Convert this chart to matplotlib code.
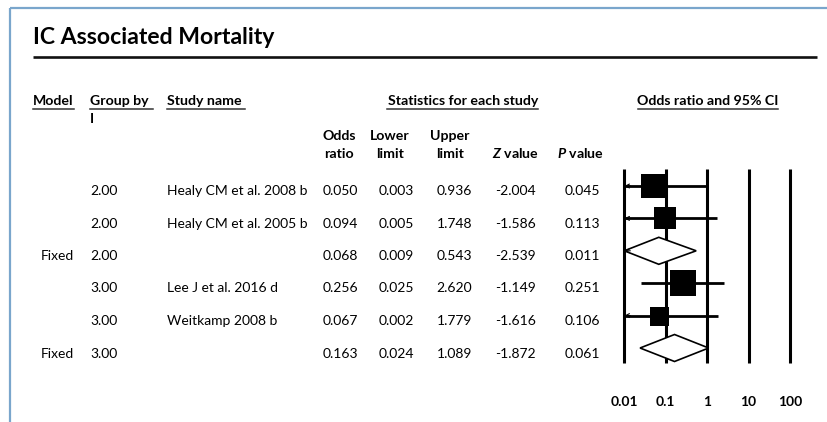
import matplotlib
matplotlib.use("Agg")
import matplotlib.pyplot as plt
import numpy as np

# ---------------- data ----------------
title = "IC Associated Mortality"
models = ["", "", "Fixed", "", "", "Fixed"]
groups = ["2.00", "2.00", "2.00", "3.00", "3.00", "3.00"]
studies = ["Healy CM et al. 2008 b", "Healy CM et al. 2005 b", "",
           "Lee J et al. 2016 d", "Weitkamp 2008 b", ""]
odds_ratio = [0.050, 0.094, 0.068, 0.256, 0.067, 0.163]
lower_limit = [0.003, 0.005, 0.009, 0.025, 0.002, 0.024]
upper_limit = [0.936, 1.748, 0.543, 2.620, 1.779, 1.089]
z_value = [-2.004, -1.586, -2.539, -1.149, -1.616, -1.872]
p_value = [0.045, 0.113, 0.011, 0.251, 0.106, 0.061]
is_summary = [False, False, True, False, False, True]
tick_values = [0.01, 0.1, 1, 10, 100]
tick_labels = ["0.01", "0.1", "1", "10", "100"]

# ---------------- style / layout ----------------
FONT = "Lato"
plt.rcParams["font.family"] = [FONT, "DejaVu Sans"]
plt.rcParams["mathtext.fontset"] = "custom"
plt.rcParams["mathtext.rm"] = FONT + ":bold"
plt.rcParams["mathtext.bfit"] = FONT + ":italic:bold"
plt.rcParams["mathtext.it"] = FONT + ":italic:bold"

W, H = 828, 422
fig = plt.figure(figsize=(W / 100, H / 100), dpi=100)
bg = fig.add_axes([0, 0, 1, 1])
bg.set_xlim(0, W)
bg.set_ylim(H, 0)
bg.axis("off")

FS = 10.0
HFS = 10.2
# border
bord = "#7aa6cc"
bg.plot([10, W], [7.5, 7.5], color=bord, lw=1.6, solid_capstyle="butt")
bg.plot([10, 10], [7.5, H], color=bord, lw=1.6, solid_capstyle="butt")

# title
bg.text(33, 44, title, fontsize=16.6, fontweight="bold", ha="left", va="baseline")
bg.plot([33, 817], [57, 57], color="#111111", lw=1.9, solid_capstyle="butt")

# header row with underlines
hdr_y = 105
hdrs = [("Model", 33, 74), ("Group by", 90, 153), ("Study name", 167, 245)]
for txt, x0, x1 in hdrs:
    bg.text(x0, hdr_y, txt, fontsize=HFS, fontweight="bold", ha="left", va="baseline")
    bg.plot([x0, x1], [108.5, 108.5], color="#333333", lw=1.1)
bg.text(90, 123, "I", fontsize=HFS, fontweight="bold", ha="left", va="baseline")
bg.text(463, hdr_y, "Statistics for each study", fontsize=HFS, fontweight="bold",
        ha="center", va="baseline")
bg.plot([387, 538], [108.5, 108.5], color="#333333", lw=1.1)
bg.text(708, hdr_y, "Odds ratio and 95% CI", fontsize=HFS, fontweight="bold",
        ha="center", va="baseline")
bg.plot([638, 778], [108.5, 108.5], color="#333333", lw=1.1)

# column headers
col_hdr = [("Odds", "ratio", 339), ("Lower", "limit", 390), ("Upper", "limit", 450)]
for l1, l2, xc in col_hdr:
    bg.text(xc, 140, l1, fontsize=HFS, fontweight="bold", ha="center", va="baseline")
    bg.text(xc, 158, l2, fontsize=HFS, fontweight="bold", ha="center", va="baseline")
bg.text(515, 158, r"$\mathbfit{Z}$ value", fontsize=HFS, fontweight="bold",
        ha="center", va="baseline")
bg.text(580, 158, r"$\mathbfit{P}$ value", fontsize=HFS, fontweight="bold",
        ha="center", va="baseline")

# table rows
row_base = [195 + 32.5 * i for i in range(len(odds_ratio))]
num_cols = [(odds_ratio, 358), (lower_limit, 414), (upper_limit, 472),
            (z_value, 536), (p_value, 600)]
for i, yb in enumerate(row_base):
    if models[i]:
        bg.text(74, yb, models[i], fontsize=FS, ha="right", va="baseline")
    bg.text(90, yb, groups[i], fontsize=FS, ha="left", va="baseline")
    if studies[i]:
        bg.text(167, yb, studies[i], fontsize=FS, ha="left", va="baseline")
    for vals, xr in num_cols:
        bg.text(xr, yb, f"{vals[i]:.3f}", fontsize=FS, ha="right", va="baseline")

# ---------------- forest plot ----------------
L, R, T, B = 600, 815, 160, 385
dec = 41.4
x0_px, x1_px = 624.3, 790
fx = fig.add_axes([L / W, 1 - B / H, (R - L) / W, (B - T) / H])
fx.set_xscale("log")
fx.set_xlim(10 ** (-2 - (x0_px - L) / dec), 10 ** (2 + (R - x1_px) / dec))
fx.set_ylim(B, T)
for s in fx.spines.values():
    s.set_visible(False)
fx.set_yticks([])
fx.set_xticks(tick_values)
fx.set_xticklabels(tick_labels, fontweight="bold", fontsize=10)
fx.minorticks_off()
fx.tick_params(axis="x", length=0, pad=8)
fx.patch.set_alpha(0)

fx.vlines(tick_values, 169, 363, color="black", lw=2.2, zorder=1)

row_y = [186 + 32.4 * i for i in range(len(odds_ratio))]
sq_px = [24, 23, None, 27, 19, None]
lo_clip = 0.01
for i, y in enumerate(row_y):
    lo = max(lower_limit[i], lo_clip)
    if is_summary[i]:
        dh = 13.5
        xs = [lo, odds_ratio[i], upper_limit[i], odds_ratio[i], lo]
        ys = [y, y - dh, y, y + dh, y]
        fx.fill(xs, ys, facecolor="white", edgecolor="black", lw=1.2, zorder=3)
    else:
        fx.hlines(y, lo, upper_limit[i], color="black", lw=2.0, zorder=2)
        fx.plot([odds_ratio[i]], [y], marker="s", color="black",
                markersize=sq_px[i] * 0.72, markeredgewidth=0, zorder=4)
    if lower_limit[i] < lo_clip:
        fx.annotate("", xy=(lo_clip, y), xytext=(6, 0), textcoords="offset pixels",
                    arrowprops=dict(arrowstyle="->", lw=0.8, color="black",
                                    mutation_scale=7, shrinkA=0, shrinkB=0),
                    zorder=5)

fig.savefig("out.png", dpi=100)
